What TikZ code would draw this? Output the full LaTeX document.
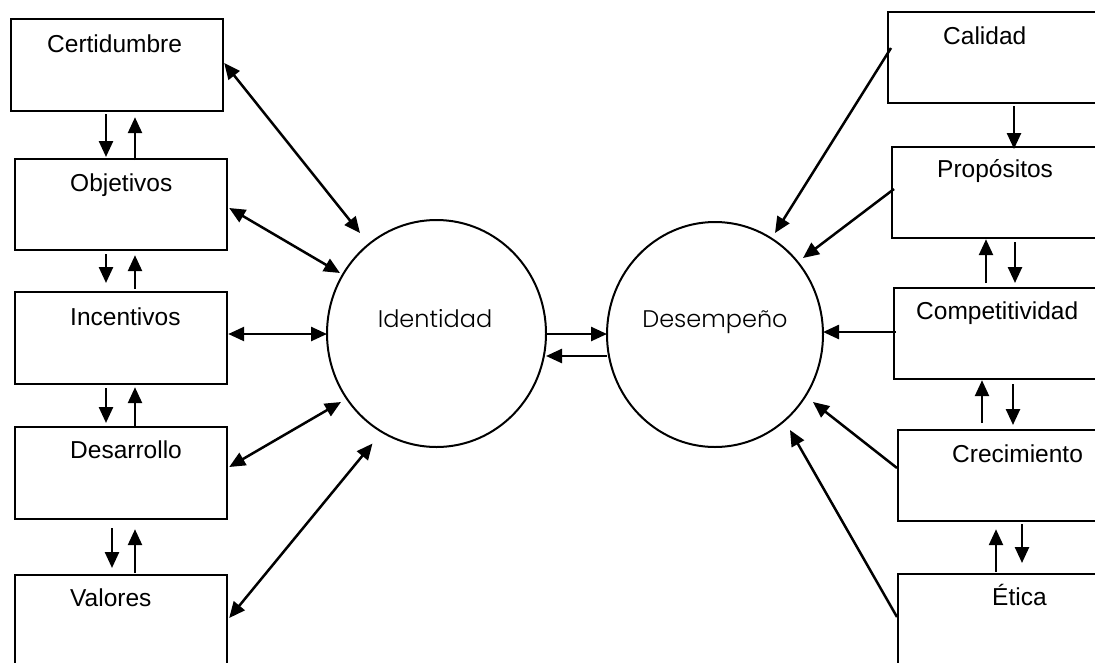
\documentclass[tikz,border=0pt]{standalone}
\usepackage{fontspec}
\setmainfont{Liberation Sans}
\newfontfamily\roundfont{Poppins Light}
\usetikzlibrary{arrows.meta,shapes.geometric}

\begin{document}
\begin{tikzpicture}[x=1pt,y=-1pt,
  box/.style={draw,line width=2.2pt,rectangle,inner sep=0pt,anchor=north west},
  lbl/.style={anchor=base west,inner sep=0pt,font=\fontsize{24.5}{28}\selectfont},
  hub/.style={draw,ellipse,line width=2pt,inner sep=0pt},
  hublbl/.style={anchor=base,inner sep=0pt,font=\roundfont\fontsize{24}{28}\selectfont},
  tip/.tip={Triangle[length=16pt,width=14pt]},
  arr/.style={line width=2.5pt,-tip},
  dbl/.style={line width=2.5pt,tip-tip}]

\useasboundingbox (0,0) rectangle (1095,662);
\clip (0,0) rectangle (1095,662);

% left column
\node[box,minimum width=212pt,minimum height=92pt] (cert) at (10,18) {};
\node[box,minimum width=212pt,minimum height=91pt] (obj)  at (14,158) {};
\node[box,minimum width=212pt,minimum height=92pt] (inc)  at (14,291) {};
\node[box,minimum width=212pt,minimum height=92pt] (des)  at (14,426) {};
\node[box,minimum width=212pt,minimum height=100pt] (val) at (14,574) {};

\node[lbl] (certT) at (47,52)  {Certidumbre};
\node[lbl] (objT)  at (70,191) {Objetivos};
\node[lbl] (incT)  at (70,325) {Incentivos};
\node[lbl] (desT)  at (70,458) {Desarrollo};
\node[lbl] (valT)  at (70,606) {Valores};

% right column
\node[box,minimum width=220pt,minimum height=91pt] (cal)  at (887,11) {};
\node[box,minimum width=220pt,minimum height=91pt] (prop) at (891,146) {};
\node[box,minimum width=220pt,minimum height=91pt] (comp) at (893,287) {};
\node[box,minimum width=220pt,minimum height=91pt] (crec) at (897,429) {};
\node[box,minimum width=220pt,minimum height=100pt] (eti) at (897,573) {};

\node[lbl] (calT)  at (943,44)  {Calidad};
\node[lbl] (propT) at (937,177) {Propósitos};
\node[lbl] (compT) at (916,319) {Competitividad};
\node[lbl] (crecT) at (952,462) {Crecimiento};
\node[lbl] (etiT)  at (992,605) {Ética};

% central circles
\node[hub,minimum width=219pt,minimum height=227pt] (ident)  at (436.5,333.5) {};
\node[hub,minimum width=216pt,minimum height=225pt] (desemp) at (715,334.5) {};
\node[hublbl] (identT)  at (435,327) {Identidad};
\node[hublbl] (desempT) at (715,327) {Desempeño};

% links between left boxes
\draw[arr] ([shift={(96,2)}]cert.south west) -- ([shift={(92,-1)}]obj.north west);
\draw[arr] ([shift={(121,2)}]obj.north west) -- ([shift={(125,5)}]cert.south west);
\draw[arr] ([shift={(92,3)}]obj.south west) -- ([shift={(92,-8)}]inc.north west);
\draw[arr] ([shift={(121,-2)}]inc.north west) -- ([shift={(121,4)}]obj.south west);
\draw[arr] ([shift={(92,3)}]inc.south west) -- ([shift={(92,-3)}]des.north west);
\draw[arr] ([shift={(121,1)}]des.north west) -- ([shift={(121,2)}]inc.south west);
\draw[arr] ([shift={(98,8)}]des.south west) -- ([shift={(98,-6)}]val.north west);
\draw[arr] ([shift={(121,-1)}]val.north west) -- ([shift={(121,9)}]des.south west);

% left boxes to Identidad
\draw[dbl] ([shift={(0,45)}]cert.north east) -- ([shift={(-76.5,-100.5)}]ident.center);
\draw[dbl] ([shift={(1,50)}]obj.north east) -- ([shift={(-96.5,-60.5)}]ident.center);
\draw[dbl] ([shift={(0,43)}]inc.north east) -- ([shift={(-109.5,0.5)}]ident.center);
\draw[dbl] ([shift={(1,41)}]des.north east) -- ([shift={(-95.5,68.5)}]ident.center);
\draw[dbl] ([shift={(1,44)}]val.north east) -- ([shift={(-64,110)}]ident.center);

% between the circles
\draw[arr] ([shift={(109.5,0.5)}]ident.center) -- ([shift={(-108,-0.5)}]desemp.center);
\draw[arr] ([shift={(-108,21.5)}]desemp.center) -- ([shift={(109.5,22.5)}]ident.center);

% links between right boxes
\draw[arr] ([shift={(127,2)}]cal.south west) -- ([shift={(123,3)}]prop.north west);
\draw[arr] ([shift={(93,-4)}]comp.north west) -- ([shift={(95,0)}]prop.south west);
\draw[arr] ([shift={(124,3)}]prop.south west) -- ([shift={(122,-4)}]comp.north west);
\draw[arr] ([shift={(85,-6)}]crec.north west) -- ([shift={(89,0)}]comp.south west);
\draw[arr] ([shift={(120,4)}]comp.south west) -- ([shift={(116,-4)}]crec.north west);
\draw[arr] ([shift={(99,-1)}]eti.north west) -- ([shift={(99,7)}]crec.south west);
\draw[arr] ([shift={(125,2)}]crec.south west) -- ([shift={(125,-10)}]eti.north west);

% right boxes to Desempeño
\draw[arr] ([shift={(4,37)}]cal.north west) -- ([shift={(60,-101.5)}]desemp.center);
\draw[arr] ([shift={(3,43)}]prop.north west) -- ([shift={(88,-76.5)}]desemp.center);
\draw[arr] ([shift={(3,45)}]comp.north west) -- ([shift={(108,-2.5)}]desemp.center);
\draw[arr] ([shift={(0,39)}]crec.north west) -- ([shift={(98,67.5)}]desemp.center);
\draw[arr] ([shift={(0,44)}]eti.north west) -- ([shift={(75,95.5)}]desemp.center);

\end{tikzpicture}
\end{document}
